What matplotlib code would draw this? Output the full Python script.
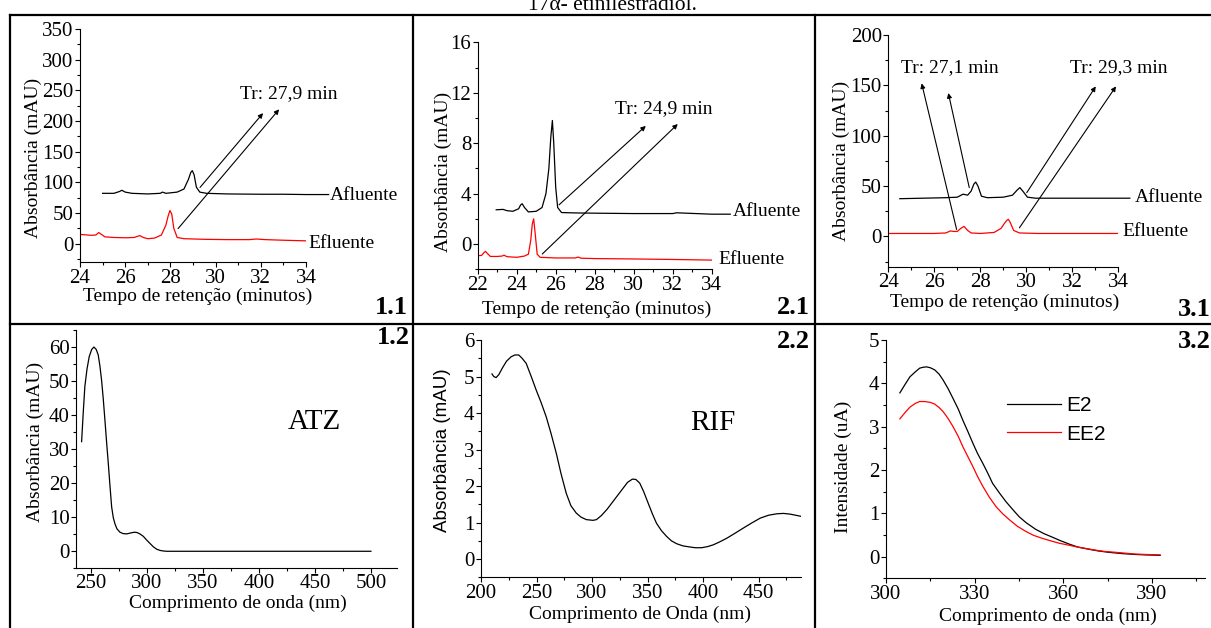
import matplotlib.pyplot as plt
from matplotlib.lines import Line2D
from matplotlib.ticker import MultipleLocator

W, H = 1211, 628

# ---- 1.1 chromatogram (ATZ) ----
t11_afl = [25.0, 25.5, 25.75, 25.85, 26.0, 26.3, 27.0, 27.55, 27.65, 27.8, 28.3, 28.6,
           28.8, 28.9, 28.97, 29.05, 29.15, 29.3, 29.6, 30.5, 32, 33, 34, 35]
a11_afl = [82, 82, 85, 87, 84, 82, 81, 82, 84, 82, 84, 89,
           105, 116, 119, 112, 92, 84, 82, 81, 80.5, 80.5, 80, 80]
t11_efl = [24.0, 24.5, 24.7, 24.83, 24.95, 25.1, 25.5, 26.0, 26.4, 26.55, 26.65, 26.8,
           27.0, 27.3, 27.6, 27.8, 27.9, 27.98, 28.06, 28.15, 28.3, 28.6, 29.5, 30.5,
           31.5, 31.8, 32.2, 33, 34]
a11_efl = [15, 13.5, 14, 18, 15, 11, 10, 9.5, 10, 12, 13, 10,
           8, 9, 14, 30, 45, 54, 48, 25, 10, 8, 7, 6.5,
           6.5, 7.5, 6.5, 5.5, 4.5]

# ---- 2.1 chromatogram (RIF) ----
t21_afl = [22.95, 23.3, 23.5, 23.8, 24.1, 24.2, 24.28, 24.4, 24.6, 25.0, 25.3, 25.5, 25.65,
           25.75, 25.83, 25.9, 26.0, 26.1, 26.3, 27, 28, 30, 32, 32.2, 34, 34.95]
a21_afl = [2.72, 2.75, 2.65, 2.6, 2.8, 3.1, 3.2, 2.9, 2.55, 2.6, 2.9, 4.0, 6.0,
           8.5, 9.8, 8.0, 4.5, 2.9, 2.5, 2.47, 2.45, 2.42, 2.42, 2.48, 2.37, 2.37]
t21_efl = [22.0, 22.2, 22.32, 22.4, 22.5, 22.65, 23.0, 23.25, 23.35, 23.5, 24.0, 24.4, 24.6,
           24.72, 24.8, 24.87, 24.95, 25.05, 25.2, 26, 27.0, 27.15, 27.3, 28, 30, 32, 34]
a21_efl = [-0.92, -0.9, -0.68, -0.58, -0.75, -0.98, -0.98, -0.95, -0.88, -1.0, -1.05, -0.95, -0.8,
           0.3, 1.6, 2.0, 0.8, -0.8, -1.05, -1.1, -1.1, -1.03, -1.12, -1.15, -1.18, -1.22, -1.27]

# ---- 3.1 chromatogram (E2 / EE2) ----
t31_afl = [24.5, 25.5, 26.5, 27.0, 27.25, 27.45, 27.6, 27.72, 27.8, 27.9, 28.05, 28.3,
           29.0, 29.4, 29.6, 29.72, 29.85, 30.05, 30.4, 31, 32, 33, 34, 34.5]
a31_afl = [37.5, 38, 38.5, 39, 42, 41, 45, 52, 54, 50, 40, 38.5,
           39, 41, 46, 48.5, 45, 39, 38, 38, 38, 38, 38, 38]
t31_efl = [24.0, 25, 26, 26.5, 26.7, 26.85, 27.0, 27.15, 27.29, 27.45, 27.6, 28.0,
           28.6, 28.9, 29.05, 29.15, 29.22, 29.3, 29.45, 29.7, 30.5, 32, 34]
a31_efl = [3, 3, 3, 3.5, 5.5, 5, 5, 8, 10, 6, 3.5, 3,
           4, 8, 13, 16, 17, 14, 6, 3.5, 3, 3, 3]

# ---- 1.2 UV spectrum ATZ ----
wl_atz = [242, 243.5, 244.9, 246.8, 248.8, 251, 253, 255, 256.8, 258.3, 259.8, 261.3,
          262.8, 264.3, 265.8, 267.3, 268.8, 270.3, 271.7, 273.5, 276.2, 279, 282.1,
          286, 289, 291.5, 294, 297, 300, 303, 306, 309, 312, 315, 318, 350, 400, 450, 500]
ab_atz = [32.2, 41, 48.4, 53.5, 57.2, 59.3, 60, 59.3, 57.7, 54.5, 50.3, 44.8,
          38.5, 32, 25.8, 19.2, 13, 9.8, 8.1, 6.6, 5.6, 5.2, 5.1,
          5.4, 5.6, 5.5, 5.1, 4.4, 3.3, 2.3, 1.3, 0.6, 0.25, 0.08, 0, 0, 0, 0, 0]

# ---- 2.2 UV spectrum RIF ----
wl_rif = [209.9, 211.5, 213.6, 216, 219.6, 223, 227.1, 230.5, 234, 237, 240.7, 245,
          249.7, 254, 258.7, 263, 267.8, 272, 276.8, 281, 285.8, 290, 294.9, 300.9,
          304, 308.4, 313.5, 319, 323.5, 328, 332, 336.4, 339.5, 343, 346.5, 350.6,
          354.5, 358.1, 362.5, 367.2, 371.5, 376.2, 382, 388.3, 393, 398.8, 404, 409.3,
          415, 421.4, 429, 436.4, 444, 451.5, 459, 466.6, 472.5, 478.6, 483.5, 488.3]
ab_rif = [5.07, 5.0, 4.97, 5.05, 5.25, 5.42, 5.54, 5.59, 5.59, 5.5, 5.36, 5.02,
          4.63, 4.3, 3.9, 3.45, 2.9, 2.35, 1.8, 1.46, 1.26, 1.15, 1.08, 1.06,
          1.08, 1.19, 1.36, 1.58, 1.76, 1.94, 2.1, 2.19, 2.18, 2.08, 1.85, 1.53,
          1.23, 0.98, 0.78, 0.62, 0.5, 0.42, 0.36, 0.33, 0.31, 0.31, 0.34, 0.39,
          0.47, 0.57, 0.71, 0.85, 0.99, 1.12, 1.2, 1.24, 1.25, 1.23, 1.2, 1.17]

# ---- 3.2 fluorescence E2 / EE2 ----
wl_e2 = [304.7, 306.5, 308.1, 310, 311.4, 312.5, 313.7, 315, 316.5, 318, 319.3, 321,
         322.7, 324.5, 326, 327.7, 329.4, 331, 332.8, 334.5, 336.1, 338.5, 340.6, 343,
         345.1, 347.5, 350.7, 353.5, 356.3, 359, 362, 365, 368.7, 372, 375.4, 380,
         384.4, 388, 392.8]
in_e2 = [3.78, 3.98, 4.15, 4.27, 4.35, 4.37, 4.38, 4.36, 4.31, 4.21, 4.08, 3.88,
         3.65, 3.40, 3.15, 2.89, 2.62, 2.38, 2.15, 1.92, 1.69, 1.46, 1.27, 1.08,
         0.92, 0.78, 0.63, 0.53, 0.45, 0.37, 0.29, 0.22, 0.17, 0.13, 0.10, 0.07,
         0.05, 0.04, 0.03]
wl_ee2 = [304.7, 306.5, 308.1, 310, 311.4, 313.1, 315, 316.5, 318, 319.3, 321, 322.7,
          324.5, 326, 327.7, 329.4, 331, 332.8, 335, 337.3, 339.5, 341.8, 344.5, 347.4,
          350, 353, 356, 358.6, 361.5, 364.2, 367.5, 370.9, 374, 377.7, 381, 384.4,
          388, 392.8]
in_ee2 = [3.18, 3.33, 3.45, 3.54, 3.58, 3.58, 3.56, 3.52, 3.44, 3.35, 3.19, 3.0,
          2.77, 2.54, 2.31, 2.08, 1.85, 1.62, 1.37, 1.15, 0.99, 0.85, 0.70, 0.58,
          0.49, 0.42, 0.36, 0.31, 0.27, 0.23, 0.19, 0.15, 0.12, 0.10, 0.08, 0.06,
          0.05, 0.04]

# arrows (start, end) in data coordinates
arrows11 = [((29.31, 91.6), (32.10, 212.8)), ((28.34, 24.5), (32.81, 219.0))]
arrows21 = [((26.17, 3.11), (30.62, 9.37)), ((25.31, -0.79), (32.26, 9.52))]
arrows31 = [((26.97, 7.0), (25.45, 152.0)), ((27.52, 48.5), (26.61, 142.4)),
            ((30.02, 43.5), (33.02, 149.0)), ((29.70, 8.6), (33.90, 149.0))]

plt.rcParams['font.family'] = ['Liberation Serif', 'DejaVu Serif']
fig = plt.figure(figsize=(W / 100, H / 100), dpi=100)


def box(l, r, t, b):
    return [l / W, 1 - b / H, (r - l) / W, (b - t) / H]


def px(x, y):
    return x / W, 1 - y / H


def style(ax, xlim, ylim, xmaj, xmin, ymaj, ymin):
    ax.set_xlim(xlim)
    ax.set_ylim(ylim)
    ax.patch.set_alpha(0)
    for s in ['top', 'right']:
        ax.spines[s].set_visible(False)
    for s in ['left', 'bottom']:
        ax.spines[s].set_linewidth(0.8)
    ax.xaxis.set_major_locator(MultipleLocator(xmaj))
    ax.xaxis.set_minor_locator(MultipleLocator(xmin))
    ax.yaxis.set_major_locator(MultipleLocator(ymaj))
    ax.yaxis.set_minor_locator(MultipleLocator(ymin))
    ax.tick_params(which='major', length=3.5, width=0.8, labelsize=15, pad=1.2)
    ax.tick_params(which='minor', length=2, width=0.8)


def arrows(ax, lst):
    for s, e in lst:
        ax.annotate('', xy=e, xytext=s, annotation_clip=False,
                    arrowprops=dict(arrowstyle='-|>', lw=0.8, color='black',
                                    mutation_scale=7, shrinkA=0, shrinkB=0))


def txt(x, y, s, **kw):
    kw.setdefault('fontsize', 14)
    fig.text(*px(x, y), s, **kw)


# ---------------- 1.1 ----------------
ax = fig.add_axes(box(80, 306, 29, 262))
style(ax, (24, 34), (-30, 350), 2, 1, 50, 25)
ax.plot(t11_afl, a11_afl, color='black', lw=0.9, clip_on=False)
ax.plot(t11_efl, a11_efl, color='red', lw=0.9)
arrows(ax, arrows11)
txt(197.5, 296, 'Tempo de retenção (minutos)', ha='center', va='center')
txt(33, 158, 'Absorbância (mAU)', ha='center', va='center', rotation=90)
txt(289, 94, 'Tr: 27,9 min', ha='center', va='center')
txt(330, 196, 'Afluente', ha='left', va='center')
txt(308, 243, 'Efluente', ha='left', va='center')
txt(408, 307, '1.1', ha='right', va='center', fontsize=19, fontweight='bold')

# ---------------- 2.1 ----------------
ax = fig.add_axes(box(477.7, 711.7, 42.3, 269.3))
style(ax, (22, 34), (-2, 16), 2, 1, 4, 2)
ax.plot(t21_afl, a21_afl, color='black', lw=0.9, clip_on=False)
ax.plot(t21_efl, a21_efl, color='red', lw=0.9)
arrows(ax, arrows21)
txt(596.7, 309, 'Tempo de retenção (minutos)', ha='center', va='center')
txt(443, 171.7, 'Absorbância (mAU)', ha='center', va='center', rotation=90)
txt(664, 109, 'Tr: 24,9 min', ha='center', va='center')
txt(733, 212, 'Afluente', ha='left', va='center')
txt(718, 259, 'Efluente', ha='left', va='center')
txt(810, 308, '2.1', ha='right', va='center', fontsize=19, fontweight='bold')

# ---------------- 3.1 ----------------
ax = fig.add_axes(box(888.3, 1118.3, 35, 266.7))
style(ax, (24, 34), (-30, 200), 2, 1, 50, 25)
ax.plot(t31_afl, a31_afl, color='black', lw=0.9, clip_on=False)
ax.plot(t31_efl, a31_efl, color='red', lw=0.9)
arrows(ax, arrows31)
txt(1005, 302.5, 'Tempo de retenção (minutos)', ha='center', va='center')
txt(841.7, 160.8, 'Absorbância (mAU)', ha='center', va='center', rotation=90)
txt(950, 68, 'Tr: 27,1 min', ha='center', va='center')
txt(1119, 68, 'Tr: 29,3 min', ha='center', va='center')
txt(1135, 197, 'Afluente', ha='left', va='center')
txt(1122, 232, 'Efluente', ha='left', va='center')
txt(1211, 310, '3.1', ha='right', va='center', fontsize=19, fontweight='bold')

# ---------------- 1.2 ----------------
ax = fig.add_axes(box(76, 396.7, 330, 568.3))
style(ax, (237, 523), (-5, 65), 50, 25, 10, 5)
ax.tick_params(axis='x', which='major', pad=0.5)
ax.plot(wl_atz, ab_atz, color='black', lw=0.9)
txt(238, 603, 'Comprimento de onda (nm)', ha='center', va='center')
txt(35, 442, 'Absorbância (mAU)', ha='center', va='center', rotation=90)
txt(314, 422, 'ATZ', ha='center', va='center', fontsize=21)
txt(410, 337, '1.2', ha='right', va='center', fontsize=19, fontweight='bold')

# ---------------- 2.2 ----------------
ax = fig.add_axes(box(481, 800.7, 340, 577.3))
style(ax, (200, 488), (-0.5, 6), 50, 25, 1, 0.5)
ax.plot(wl_rif, ab_rif, color='black', lw=0.9)
txt(640, 614, 'Comprimento de Onda (nm)', ha='center', va='center')
txt(443, 450, 'Absorbância (mAU)', ha='center', va='center', rotation=90,
    family=['Liberation Sans', 'DejaVu Sans'], fontsize=13.5)
txt(713, 423, 'RIF', ha='center', va='center', fontsize=21)
txt(810, 341, '2.2', ha='right', va='center', fontsize=19, fontweight='bold')

# ---------------- 3.2 ----------------
ax = fig.add_axes(box(886, 1205, 340, 578.3))
style(ax, (300, 408), (-0.5, 5), 30, 15, 1, 0.5)
ax.plot(wl_e2, in_e2, color='black', lw=0.9, label='E2')
ax.plot(wl_ee2, in_ee2, color='red', lw=0.9, label='EE2')
ax.legend(loc='center left', bbox_to_anchor=px(1006.7, 420), bbox_transform=fig.transFigure,
          frameon=False, borderpad=0, borderaxespad=0, handlelength=2.6, handletextpad=0.25,
          labelspacing=0.45, prop={'family': ['Liberation Sans', 'DejaVu Sans'], 'size': 15})
txt(1048, 616, 'Comprimento de onda (nm)', ha='center', va='center')
txt(843, 467, 'Intensidade (uA)', ha='center', va='center', rotation=90)
txt(1211, 341, '3.2', ha='right', va='center', fontsize=19, fontweight='bold')

# ---------------- table borders and cut caption ----------------
for (x0, y0), (x1, y1) in [((10, 15), (1211, 15)), ((10, 15), (10, 628)),
                           ((413, 15), (413, 628)), ((815, 15), (815, 628)),
                           ((10, 324), (1211, 324))]:
    fig.add_artist(Line2D([x0 / W, x1 / W], [1 - y0 / H, 1 - y1 / H],
                          transform=fig.transFigure, color='black', lw=1.6))

txt(612, 10, '17α- etinilestradiol.', ha='center', va='baseline', fontsize=15.5)

fig.savefig('out.png', dpi=100)
